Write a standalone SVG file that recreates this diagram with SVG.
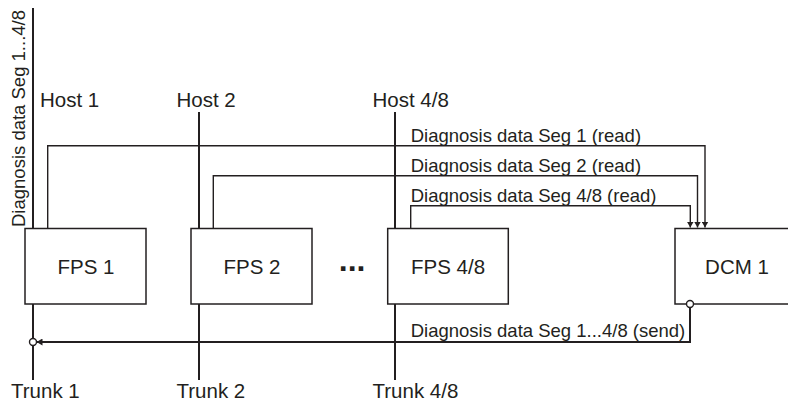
<svg xmlns="http://www.w3.org/2000/svg" width="788" height="403" viewBox="0 0 788 403">
<style>
text{font-family:"Liberation Sans",Arial,sans-serif;fill:#231f20}
.lbl{font-size:18.5px}
.big{font-size:20.5px}
.box{font-size:20.5px;text-anchor:middle}
.node rect{fill:#fff;stroke:#231f20;stroke-width:1.5}
.bus{fill:none;stroke:#231f20;stroke-width:2}
.sig{fill:none;stroke:#231f20;stroke-width:1.4}
.dot{fill:#fff;stroke:#231f20;stroke-width:1.4}
</style>
<defs>
<marker id="ah" viewBox="0 0 8 8" refX="8" refY="4" markerWidth="6" markerHeight="7" markerUnits="userSpaceOnUse" orient="auto" preserveAspectRatio="none">
<path d="M0,0 L8,4 L0,8 Z" fill="#231f20"/>
</marker>
</defs>
<rect width="788" height="403" fill="#fff"/>
<g id="connectors">
<path class="bus" d="M33,8 V228"/>
<path class="bus" d="M199,112 V228"/>
<path class="bus" d="M395,112 V228"/>
<path class="bus" d="M33,304 V380"/>
<path class="bus" d="M199,304 V380"/>
<path class="bus" d="M395,304 V380"/>
<path class="sig" d="M47.7,228 V145.7 H705 V227.5" marker-end="url(#ah)"/>
<path class="sig" d="M213.3,228 V175.7 H697.5 V227.5" marker-end="url(#ah)"/>
<path class="sig" d="M410.7,228 V205.7 H690.3 V227.5" marker-end="url(#ah)"/>
<path class="bus" d="M690,307.5 V342 H36.5" marker-end="url(#ah)"/>
<circle class="dot" cx="33" cy="342" r="3.5"/>
</g>
<g id="fps1" class="node"><rect x="25" y="228.5" width="121" height="75.5"/><text class="box" x="86" y="274">FPS 1</text></g>
<g id="fps2" class="node"><rect x="191" y="228.5" width="121" height="75.5"/><text class="box" x="252" y="274">FPS 2</text></g>
<g id="fps48" class="node"><rect x="387.7" y="228.5" width="120.6" height="75.5"/><text class="box" x="448" y="274">FPS 4/8</text></g>
<g id="dcm1" class="node"><rect x="675" y="228.5" width="120" height="75.5"/><text class="box" x="737" y="274">DCM 1</text><circle class="dot" cx="690" cy="304" r="3.5"/></g>
<g id="dots"><text x="338.8" y="271" style="font-size:32px;font-weight:bold">...</text></g>
<g id="labels">
<text class="lbl" transform="translate(25,227) rotate(-90)">Diagnosis data Seg 1...4/8</text>
<text class="big" x="40" y="107">Host 1</text>
<text class="big" x="176.5" y="107">Host 2</text>
<text class="big" x="372.5" y="107">Host 4/8</text>
<text class="lbl" x="410.7" y="141.7">Diagnosis data Seg 1 (read)</text>
<text class="lbl" x="410.7" y="171.7">Diagnosis data Seg 2 (read)</text>
<text class="lbl" x="410.7" y="201.7">Diagnosis data Seg 4/8 (read)</text>
<text class="lbl" x="410.7" y="337">Diagnosis data Seg 1...4/8 (send)</text>
<text class="big" x="11" y="398">Trunk 1</text>
<text class="big" x="176.5" y="398">Trunk 2</text>
<text class="big" x="372.5" y="398">Trunk 4/8</text>
</g>
</svg>
